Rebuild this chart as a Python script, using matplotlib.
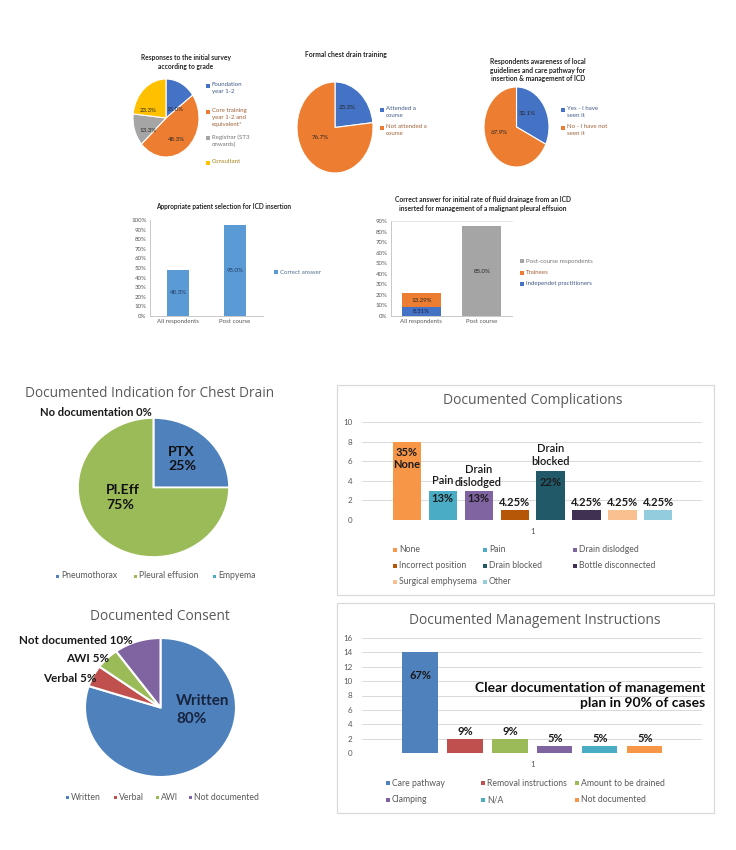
import matplotlib
matplotlib.use('Agg')
import matplotlib.pyplot as plt
from matplotlib.patches import Rectangle
import numpy as np

# ---------------- data ----------------
grade_labels = ["Foundation\nyear 1-2", "Core training\nyear 1-2 and\nequivalent*",
                "Registrar (ST3\nonwards)", "Consultant"]
grade_values = [15.0, 48.3, 13.3, 23.3]

training_labels = ["Attended a\ncourse", "Not attended a\ncourse"]
training_values = [23.3, 76.7]

awareness_labels = ["Yes - I have\nseen it", "No - I have not\nseen it"]
awareness_values = [32.1, 67.9]

selection_categories = ["All respondents", "Post course"]
selection_values = [48.3, 95.0]

drainage_categories = ["All respondents", "Post course"]
drainage_independent = [8.31, 0.0]
drainage_trainees = [13.29, 0.0]
drainage_post = [0.0, 85.0]

indication_labels = ["Pneumothorax", "Pleural effusion", "Empyema"]
indication_values = [25, 75, 0]

complication_labels = ["None", "Pain", "Drain dislodged", "Incorrect position",
                       "Drain blocked", "Bottle disconnected", "Surgical emphysema", "Other"]
complication_counts = [8, 3, 3, 1, 5, 1, 1, 1]
complication_inside = ["35%\nNone", "13%", "13%", "", "22%", "", "", ""]
complication_above = ["", "Pain", "Drain\ndislodged", "4.25%", "Drain\nblocked",
                      "4.25%", "4.25%", "4.25%"]

consent_labels = ["Written", "Verbal", "AWI", "Not documented"]
consent_values = [80, 5, 5, 10]

management_labels = ["Care pathway", "Removal instructions", "Amount to be drained",
                     "Clamping", "N/A", "Not documented"]
management_counts = [14, 2, 2, 1, 1, 1]
management_pct = ["67%", "9%", "9%", "5%", "5%", "5%"]

# ---------------- helpers ----------------
W, H = 736, 850
fig = plt.figure(figsize=(W / 100, H / 100), dpi=100)
fig.patch.set_facecolor('white')
plt.rcParams['font.family'] = ['Lato', 'DejaVu Sans']


def ax_px(x0, y0, x1, y1):
    return fig.add_axes([x0 / W, 1 - y1 / H, (x1 - x0) / W, (y1 - y0) / H])


def ftext(x, y, s, **kw):
    return fig.text(x / W, 1 - y / H, s, **kw)


def fit(t, width):
    r = fig.canvas.get_renderer()
    w = t.get_window_extent(r).width
    t.set_fontsize(t.get_fontsize() * width / w)
    return t


def sq(x, y, color, s=4.0):
    fig.add_artist(Rectangle(((x - s / 2) / W, 1 - (y + s / 2) / H), s / W, s / H,
                             transform=fig.transFigure, color=color, lw=0))


def frame(x0, y0, x1, y1):
    fig.add_artist(Rectangle((x0 / W, 1 - y1 / H), (x1 - x0) / W, (y1 - y0) / H,
                             transform=fig.transFigure, facecolor='none',
                             edgecolor='#D9D9D9', lw=0.9))


def tint(c, k=0.45):
    c = np.array(matplotlib.colors.to_rgb(c))
    g = np.array([0.25, 0.25, 0.25])
    return tuple(c * (1 - k) + g * k)


def pie_px(box, values, colors, lw=0.8):
    ax = ax_px(*box)
    wedges, _ = ax.pie(values, colors=colors, startangle=90, counterclock=False,
                       wedgeprops=dict(edgecolor='white', linewidth=lw))
    ax.set_aspect('auto')
    ax.set_xlim(-1, 1)
    ax.set_ylim(-1, 1)
    return ax


TOPFS = 4.4
TXT = '#404040'
GRAY = '#595959'
LEGFS = 6.2

# ---------------- top row: chart 1 ----------------
t = ftext(186, 62, "Responses to the initial survey\naccording to grade", ha='center',
          va='center', fontweight='bold', fontsize=5, color='#262626', linespacing=1.3)
fit(t, 92)
c1 = ['#4472C4', '#ED7D31', '#A5A5A5', '#FFC000']
ax = pie_px((133, 79, 199, 157), grade_values, c1)
for (dx, dy), v in zip([(0.27, 0.21), (0.33, -0.55), (-0.55, -0.31), (-0.55, 0.18)], grade_values):
    ax.text(dx, dy, f"{v:.1f}%", ha='center', va='center', fontsize=TOPFS, color='#262626')
for y, lab, col in zip([86, 112, 138, 163], grade_labels, c1):
    sq(208, y, col, 3.2)
    ftext(212, y - 3.6, lab, ha='left', va='top', fontsize=TOPFS, color=tint(col),
          linespacing=1.45)

# ---------------- top row: chart 2 ----------------
t = ftext(346, 55, "Formal chest drain training", ha='center', va='center',
          fontweight='bold', fontsize=5, color='#262626')
fit(t, 82)
c2 = ['#4472C4', '#ED7D31']
ax = pie_px((297, 82, 373, 173), training_values, c2)
for (dx, dy), v in zip([(0.32, 0.45), (-0.39, -0.21)], training_values):
    ax.text(dx, dy, f"{v:.1f}%", ha='center', va='center', fontsize=TOPFS, color='#262626')
for y, lab, col in zip([110, 128], training_labels, c2):
    sq(382, y, col, 3.2)
    ftext(386, y - 3.6, lab, ha='left', va='top', fontsize=TOPFS, color=tint(col),
          linespacing=1.45)

# ---------------- top row: chart 3 ----------------
t = ftext(538, 70, "Respondents awareness of local\nguidelines and care pathway for\ninsertion & management of ICD",
          ha='center', va='center', fontweight='bold', fontsize=5, color='#262626', linespacing=1.3)
fit(t, 97)
ax = pie_px((484, 87, 549, 167), awareness_values, c2)
for (dx, dy), v in zip([(0.32, 0.33), (-0.54, -0.15)], awareness_values):
    ax.text(dx, dy, f"{v:.1f}%", ha='center', va='center', fontsize=TOPFS, color='#262626')
for y, lab, col in zip([110, 128], awareness_labels, c2):
    sq(563, y, col, 3.2)
    ftext(567, y - 3.6, lab, ha='left', va='top', fontsize=TOPFS, color=tint(col),
          linespacing=1.45)


def style_top_bar(ax):
    for s in ['top', 'right']:
        ax.spines[s].set_visible(False)
    for s in ['left', 'bottom']:
        ax.spines[s].set_color('#BFBFBF')
        ax.spines[s].set_linewidth(0.6)
    ax.tick_params(length=0, labelsize=TOPFS, colors=GRAY, pad=2.5)


# ---------------- chart 4 ----------------
t = ftext(224, 206, "Appropriate patient selection for ICD insertion", ha='center',
          va='center', fontweight='bold', fontsize=5, color='#262626')
fit(t, 137)
ax = ax_px(150, 220, 263, 316)
x = np.arange(len(selection_categories))
b = ax.bar(x, selection_values, width=0.39, color='#5B9BD5')
ax.set_xlim(-0.5, 1.5)
ax.set_ylim(0, 100)
ax.set_yticks(range(0, 101, 10))
ax.set_yticklabels([f"{v}%" for v in range(0, 101, 10)])
ax.set_xticks(x)
ax.set_xticklabels(selection_categories)
style_top_bar(ax)
ax.bar_label(b, labels=[f"{v:.1f}%" for v in selection_values], label_type='center',
             fontsize=TOPFS, color='#1F3864')
sq(276, 272, '#5B9BD5', 3.2)
ftext(280, 272, "Correct answer", ha='left', va='center', fontsize=TOPFS, color=tint('#5B9BD5'))

# ---------------- chart 5 ----------------
t = ftext(483, 204, "Correct answer for initial rate of fluid drainage from an ICD\ninserted for management of a malignant pleural effsuion",
          ha='center', va='center', fontweight='bold', fontsize=5, color='#262626', linespacing=1.3)
fit(t, 179)
ax = ax_px(391, 221, 512, 316)
x = np.arange(len(drainage_categories))
b1 = ax.bar(x, drainage_independent, width=0.64, color='#4472C4')
b2 = ax.bar(x, drainage_trainees, width=0.64, bottom=drainage_independent, color='#ED7D31')
b3 = ax.bar(x, drainage_post, width=0.64, color='#A5A5A5')
ax.set_xlim(-0.5, 1.5)
ax.set_ylim(0, 90)
ax.set_yticks(range(0, 91, 10))
ax.set_yticklabels([f"{v}%" for v in range(0, 91, 10)])
ax.set_xticks(x)
ax.set_xticklabels(drainage_categories)
style_top_bar(ax)
ax.spines['top'].set_visible(True)
ax.spines['top'].set_color('#D9D9D9')
ax.spines['top'].set_linewidth(0.5)
ax.bar_label(b1, labels=[f"{v:.2f}%" if v else "" for v in drainage_independent],
             label_type='center', fontsize=TOPFS, color='#1F1F3F')
ax.bar_label(b2, labels=[f"{v:.2f}%" if v else "" for v in drainage_trainees],
             label_type='center', fontsize=TOPFS, color='#262626')
ax.bar_label(b3, labels=[f"{v:.1f}%" if v else "" for v in drainage_post],
             label_type='center', fontsize=TOPFS, color='#262626')
for y, lab, col in zip([261, 273, 284], ["Post-course respondents", "Trainees", "Independet practitioners"],
                       ['#A5A5A5', '#ED7D31', '#4472C4']):
    sq(522, y, col, 3.2)
    ftext(526, y, lab, ha='left', va='center', fontsize=TOPFS, color=tint(col))

# ---------------- bottom-left: indication pie ----------------
TITLEFONT = ['Open Sans', 'DejaVu Sans']
t = ftext(150, 393, "Documented Indication for Chest Drain", ha='center', va='center',
          fontsize=10, color='#595959', family=TITLEFONT)
fit(t, 250)
c_ind = ['#4F81BD', '#9BBB59', '#4BACC6']
ax = pie_px((78, 418, 229, 557), indication_values, c_ind, lw=1.2)
t = ftext(96, 413, f"No documentation {indication_values[2]}%", ha='center', va='center',
          fontweight='bold', fontsize=7.5, color='#1a1a1a')
fit(t, 112)
ftext(168, 459, f"PTX\n{indication_values[0]}%", ha='left', va='center', fontweight='bold',
      fontsize=10.2, color='#111111', linespacing=1.25)
ftext(106, 497.5, f"Pl.Eff\n{indication_values[1]}%", ha='left', va='center', fontweight='bold',
      fontsize=10.2, color='#111111', linespacing=1.25)
for xm, lab, col in zip([57, 135, 214], indication_labels, c_ind):
    sq(xm, 576, col, 3.0)
    ftext(xm + 4, 576, lab, ha='left', va='center', fontsize=6.2, color=GRAY)

# ---------------- bottom-left: consent pie ----------------
t = ftext(160, 617, "Documented Consent", ha='center', va='center',
          fontsize=10, color='#595959', family=TITLEFONT)
fit(t, 140)
c_con = ['#4F81BD', '#C0504D', '#9BBB59', '#8064A2']
ax = pie_px((85, 638, 236, 777), consent_values, c_con, lw=1.5)
ftext(176, 710, f"{consent_labels[0]}\n{consent_values[0]}%", ha='left', va='center',
      fontweight='bold', fontsize=11, color='#17243F', linespacing=1.3)
for (xr, y), lab, v in zip([(97, 679), (109, 659), (133, 640)], consent_labels[1:], consent_values[1:]):
    ftext(xr, y, f"{lab} {v}%", ha='right', va='center', fontweight='bold', fontsize=8.4,
          color='#1a1a1a')
for xm, lab, col in zip([67, 115, 157, 190], consent_labels, c_con):
    sq(xm, 797, col, 3.0)
    ftext(xm + 4, 797, lab, ha='left', va='center', fontsize=6.2, color=GRAY)


def style_bottom_bar(ax, ymax, step):
    for s in ['top', 'right', 'left', 'bottom']:
        ax.spines[s].set_visible(False)
    ax.set_ylim(0, ymax)
    ax.set_yticks(range(0, ymax + 1, step))
    ax.yaxis.grid(True, color='#D9D9D9', lw=0.7)
    ax.set_axisbelow(True)
    ax.tick_params(axis='y', length=0, labelsize=5.8, colors=GRAY, pad=7)
    ax.tick_params(axis='x', length=0, labelsize=5.8, colors=GRAY, pad=6)
    ax.set_xticks([0])
    ax.set_xticklabels(['1'])


# ---------------- bottom-right: complications ----------------
frame(337, 385, 714, 595)
t = ftext(533, 401, "Documented Complications", ha='center', va='center',
          fontsize=10, color='#595959', family=TITLEFONT)
fit(t, 180)
c_comp = ['#F79646', '#4BACC6', '#8064A2', '#B65708', '#215968', '#3F3151', '#FAC090', '#93CDDD']
ax = ax_px(362, 422, 702, 520)
n = len(complication_counts)
xs = np.arange(n) - (n - 1) / 2
ax.bar(xs, complication_counts, width=0.78, color=c_comp)
ax.set_xlim(-4.74, 4.71)
style_bottom_bar(ax, 10, 2)
inside_off = [-17, -7.5, -7.5, 0, -11, 0, 0, 0]
above_off = [0, 10.6, 14.6, 7.5, 16, 7.5, 7.5, 7.5]
for xi, cnt, lin, lab, oi, oa in zip(xs, complication_counts, complication_inside,
                                      complication_above, inside_off, above_off):
    if lin:
        ax.annotate(lin, (xi, cnt), xytext=(0, oi), textcoords='offset pixels', ha='center',
                    va='center', fontsize=8, fontweight='bold', color='#1a1a1a', linespacing=1.15)
    if lab:
        bold = '%' in lab
        ax.annotate(lab, (xi, cnt), xytext=(0, oa), textcoords='offset pixels', ha='center',
                    va='center', fontsize=8, fontweight='bold' if bold else 'semibold',
                    color='#1a1a1a', linespacing=1.2)
cols_x = [395, 485, 575]
rows_y = [550, 566, 582]
for i, (lab, col) in enumerate(zip(complication_labels, c_comp)):
    xm = cols_x[i % 3]
    y = rows_y[i // 3]
    sq(xm, y, col, 3.6)
    ftext(xm + 4, y, lab, ha='left', va='center', fontsize=LEGFS, color=GRAY)

# ---------------- bottom-right: management ----------------
frame(337, 603, 714, 813)
t = ftext(535, 620, "Documented Management Instructions", ha='center', va='center',
          fontsize=10, color='#595959', family=TITLEFONT)
fit(t, 252)
c_man = ['#4F81BD', '#C0504D', '#9BBB59', '#8064A2', '#4BACC6', '#F79646']
ax = ax_px(362, 638, 702, 753)
n = len(management_counts)
xs = np.arange(n) - (n - 1) / 2
ax.bar(xs, management_counts, width=0.78, color=c_man)
ax.set_xlim(-3.79, 3.77)
style_bottom_bar(ax, 16, 2)
for xi, cnt, lab in zip(xs, management_counts, management_pct):
    off = -23.6 if cnt > 5 else 7
    ax.annotate(lab, (xi, cnt), xytext=(0, off), textcoords='offset pixels', ha='center',
                va='center', fontsize=8, fontweight='bold', color='#1a1a1a')
t = ftext(705, 695.5, "Clear documentation of management\nplan in 90% of cases", ha='right',
          va='center', fontsize=9, fontweight='bold', color='#0d0d0d', linespacing=1.25)
fit(t, 231)
cols_x = [388, 483, 577]
rows_y = [783, 800]
for i, (lab, col) in enumerate(zip(management_labels, c_man)):
    xm = cols_x[i % 3]
    y = rows_y[i // 3]
    sq(xm, y, col, 3.6)
    ftext(xm + 4, y, lab, ha='left', va='center', fontsize=LEGFS, color=GRAY)

fig.savefig('out.png', dpi=100, facecolor='white')
